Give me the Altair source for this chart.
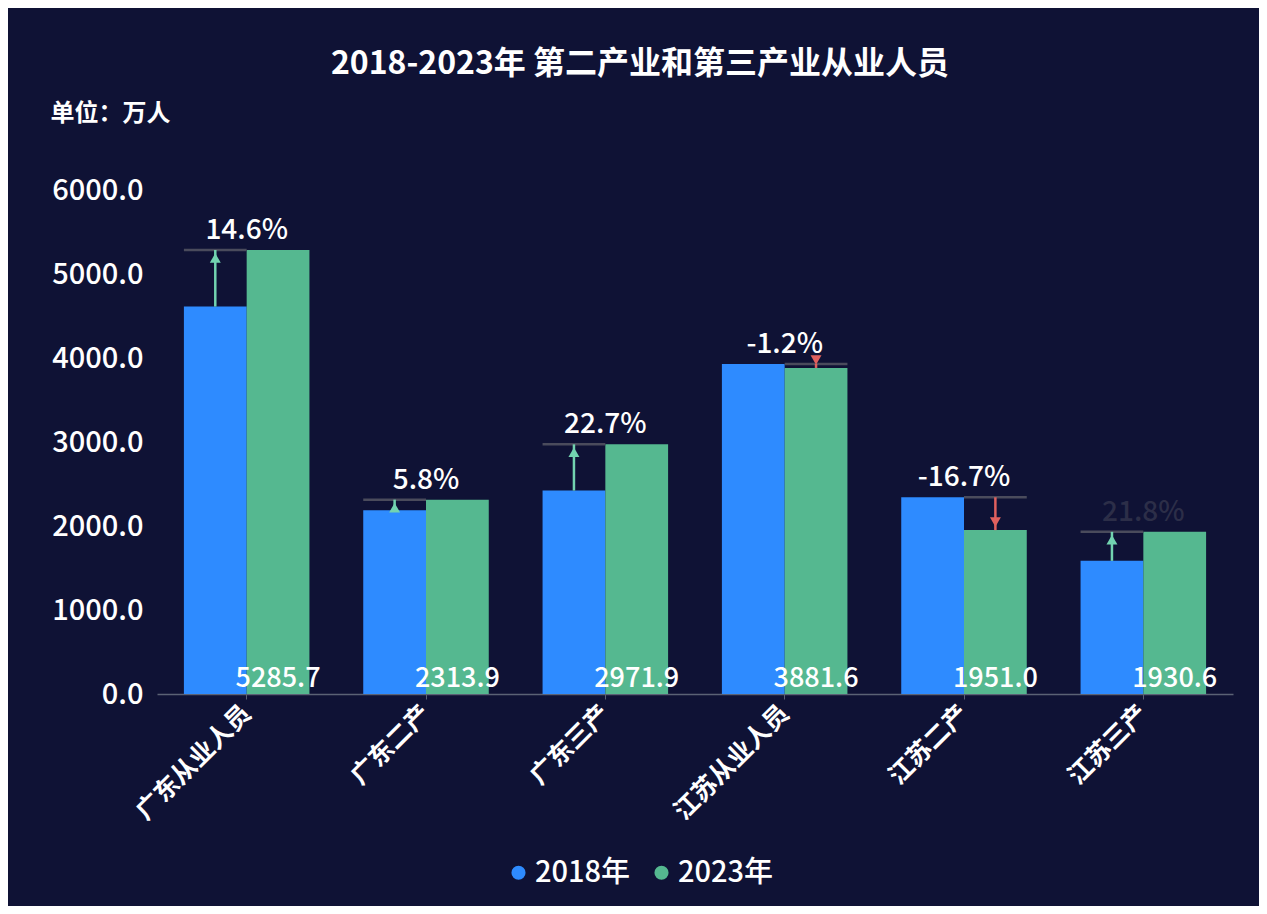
import altair as alt
import pandas as pd

categories = ["广东从业人员", "广东二产", "广东三产", "江苏从业人员", "江苏二产", "江苏三产"]
v2018 = [4612.3, 2187.0, 2422.1, 3928.7, 2342.1, 1585.0]
v2023 = [5285.7, 2313.9, 2971.9, 3881.6, 1951.0, 1930.6]
pct_labels = ["14.6%", "5.8%", "22.7%", "-1.2%", "-16.7%", "21.8%"]
label_visible = [1, 1, 1, 1, 1, 0]
years = ["2018年", "2023年"]

FONT = "Noto Sans CJK SC"
BG = "#0f1235"
W, H = 1076, 504
BW = W / (6 - 0.3 + 0.3) * 0.7  # bandwidth of a category
HALF = BW / 2
QUART = BW / 4

rows = []
for c, a, b in zip(categories, v2018, v2023):
    rows.append({"cat": c, "year": years[0], "value": a})
    rows.append({"cat": c, "year": years[1], "value": b})
bars_df = pd.DataFrame(rows)

chg = pd.DataFrame({
    "cat": categories,
    "v18": v2018,
    "v23": v2023,
    "hi": [max(a, b) for a, b in zip(v2018, v2023)],
    "lo": [min(a, b) for a, b in zip(v2018, v2023)],
    "pct": pct_labels,
    "vis": label_visible,
    "up": [b >= a for a, b in zip(v2018, v2023)],
    "lab23": [f"{b:.1f}" for b in v2023],
    "zero": [0] * 6,
})

xsc = alt.Scale(domain=categories, paddingInner=0.3, paddingOuter=0.15)
ysc = alt.Scale(domain=[0, 6000])
X = alt.X("cat:N", scale=xsc, sort=categories,
          axis=alt.Axis(title=None, labelAngle=-45, labelFontSize=25, labelFontWeight="bold",
                        labelColor="white", labelFont=FONT, ticks=True, tickSize=5,
                        tickColor="#5b6275", labelPadding=10,
                        domainColor="#5b6275", domainWidth=1.5, labelAlign="right",
                        labelBaseline="middle"))

bars = alt.Chart(bars_df).mark_bar().encode(
    x=X,
    xOffset=alt.XOffset("year:N", sort=years),
    y=alt.Y("value:Q", scale=ysc,
            axis=alt.Axis(title="单位：万人", titleAngle=0, titleAlign="left", titleBaseline="middle",
                          titleX=-107, titleY=-77, titleFontSize=24, titleFontWeight="bold",
                          titleColor="white", titleFont=FONT,
                          values=[0, 1000, 2000, 3000, 4000, 5000, 6000], format=".1f",
                          labelFontSize=29, labelFontWeight=500, labelColor="white", labelFont=FONT,
                          grid=False, domain=False, ticks=False, labelPadding=14)),
    color=alt.Color("year:N", sort=years,
                    scale=alt.Scale(domain=years, range=["#2e8bff", "#55b890"]),
                    legend=alt.Legend(title=None, orient="none", direction="horizontal",
                                      legendX=347, legendY=668, symbolType="circle",
                                      symbolSize=200, labelFontSize=29, labelFontWeight=500,
                                      labelColor="white",
                                      labelFont=FONT, columnPadding=16, labelOffset=2)),
)

up_df = chg[chg["up"]]
dn_df = chg[~chg["up"]]
LINE_C = "#4a4b5c"
UP_C = "#72d3b0"
DN_C = "#e0605e"

line_up = alt.Chart(up_df).mark_rule(color=LINE_C, strokeWidth=2.5, xOffset=-HALF, x2Offset=0).encode(
    x=alt.X("cat:N", scale=xsc, sort=categories), x2="cat:N", y=alt.Y("hi:Q", scale=ysc))
line_dn = alt.Chart(dn_df).mark_rule(color=LINE_C, strokeWidth=2.5, xOffset=0, x2Offset=HALF).encode(
    x=alt.X("cat:N", scale=xsc, sort=categories), x2="cat:N", y=alt.Y("hi:Q", scale=ysc))

shaft_up = alt.Chart(up_df).mark_rule(color=UP_C, strokeWidth=2.5, xOffset=-QUART).encode(
    x=alt.X("cat:N", scale=xsc, sort=categories), y=alt.Y("lo:Q", scale=ysc), y2="hi:Q")
head_up = alt.Chart(up_df).mark_point(shape="triangle-up", filled=True, opacity=1, size=120,
                                      color=UP_C, xOffset=-QUART, yOffset=8).encode(
    x=alt.X("cat:N", scale=xsc, sort=categories), y=alt.Y("hi:Q", scale=ysc))

shaft_dn = alt.Chart(dn_df).mark_rule(color=DN_C, strokeWidth=2.5, xOffset=QUART).encode(
    x=alt.X("cat:N", scale=xsc, sort=categories), y=alt.Y("lo:Q", scale=ysc), y2="hi:Q")
head_dn = alt.Chart(dn_df).mark_point(shape="triangle-down", filled=True, opacity=1, size=120,
                                      color=DN_C, xOffset=QUART, yOffset=-8).encode(
    x=alt.X("cat:N", scale=xsc, sort=categories), y=alt.Y("lo:Q", scale=ysc))

pct_text = alt.Chart(chg).mark_text(fontSize=28, fontWeight=500, font=FONT, baseline="bottom", dy=-5).encode(
    x=alt.X("cat:N", scale=xsc, sort=categories), y=alt.Y("hi:Q", scale=ysc), text="pct:N",
    color=alt.condition("datum.vis == 1", alt.value("white"), alt.value("#2c2e48")))

val_text = alt.Chart(chg).mark_text(fontSize=27, fontWeight=500, font=FONT, color="white", baseline="bottom",
                                    dy=-1, xOffset=QUART).encode(
    x=alt.X("cat:N", scale=xsc, sort=categories), y=alt.Y("zero:Q", scale=ysc), text="lab23:N")

chart = alt.layer(bars, line_up, line_dn, shaft_up, head_up, shaft_dn, head_dn, pct_text, val_text).properties(
    width=W, height=H,
    autosize=alt.AutoSizeParams(type="none"),
    padding={"left": 149, "top": 182, "right": 26, "bottom": 212},
    background=BG,
    title=alt.TitleParams("2018-2023年 第二产业和第三产业从业人员", fontSize=32, fontWeight="bold",
                          color="white", font=FONT, anchor="middle", dx=-55, offset=20),
).configure_view(stroke=None)

chart.save("out.html", embed_options={"renderer": "svg", "actions": False})
